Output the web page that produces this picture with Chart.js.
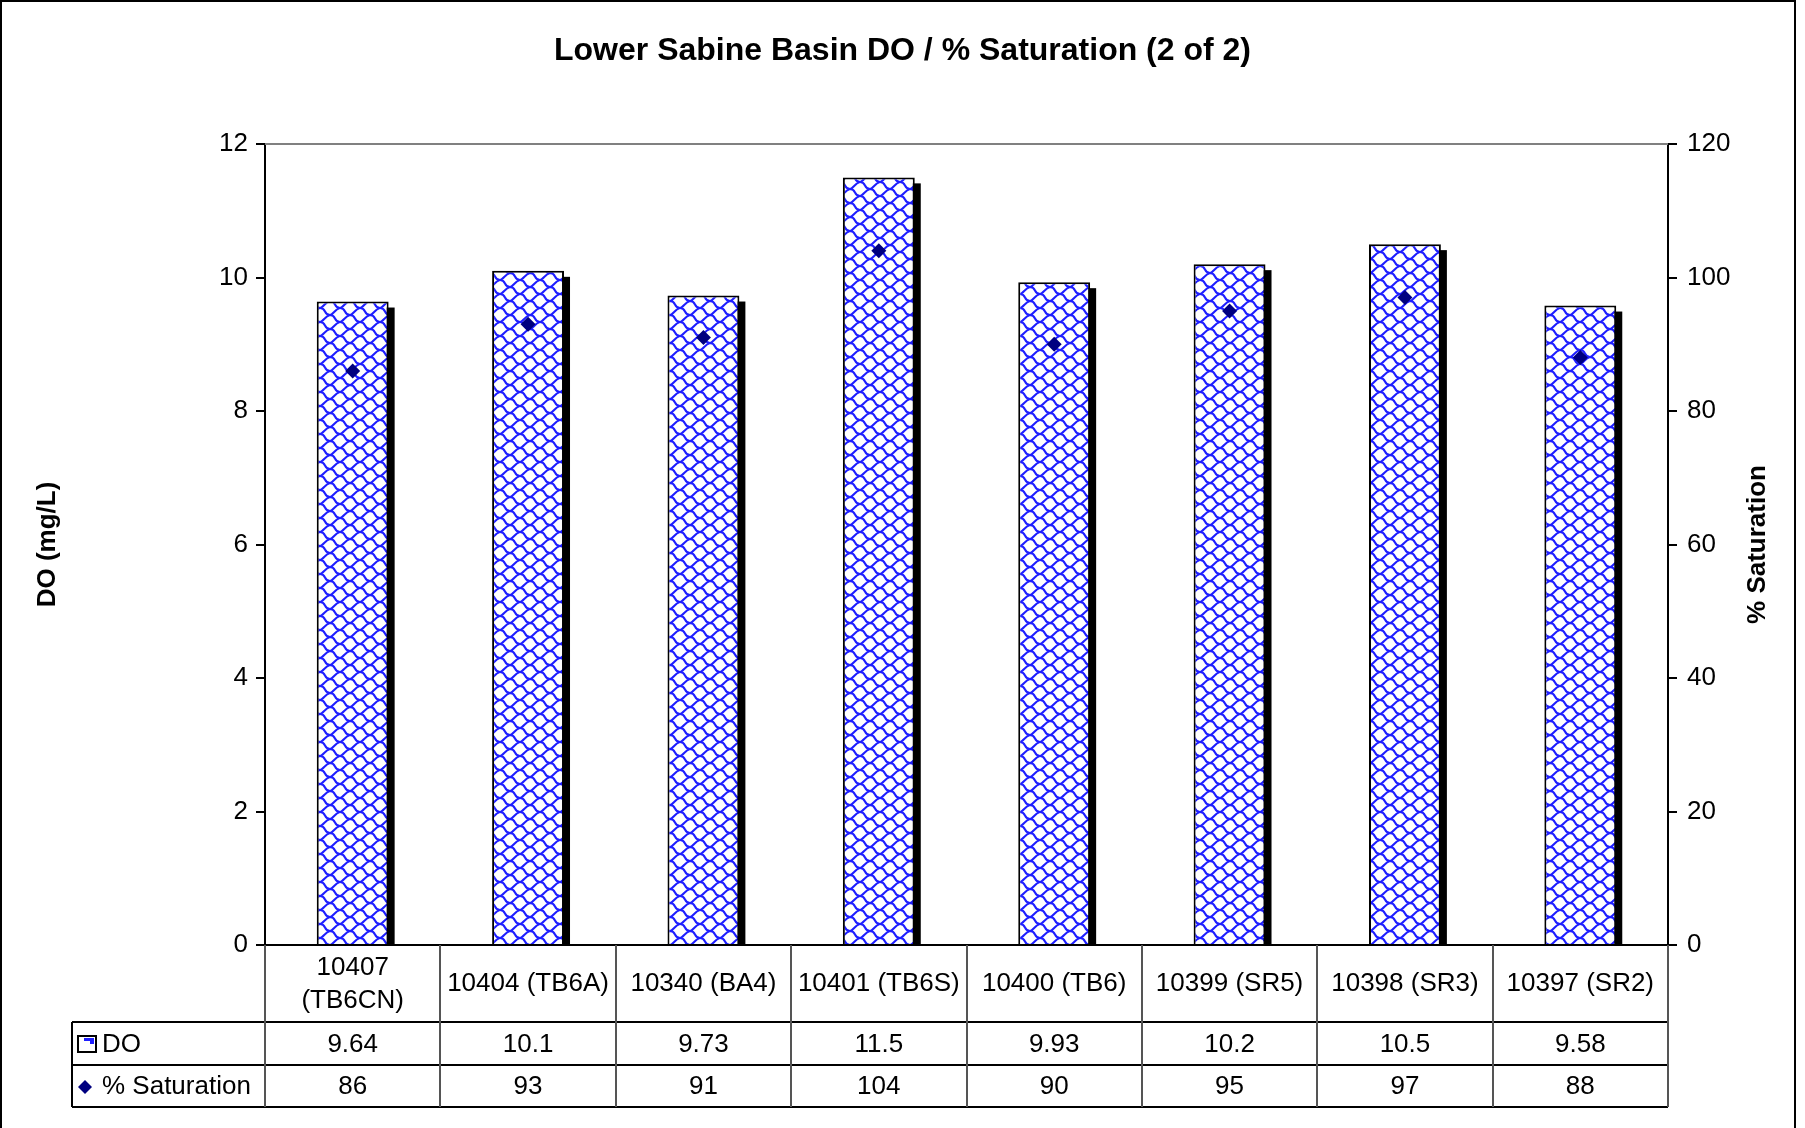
<!DOCTYPE html>
<html lang="en">
<head>
    <meta charset="UTF-8">
    <title>Lower Sabine Basin DO / % Saturation (2 of 2)</title>
    <style>
        body {
            margin: 0;
            background-color: #fff;
        }
        canvas {
            display: block;
        }
    </style>
</head>
<body>
    <canvas id="doChart" width="1805" height="1128"></canvas>

    <script src="https://cdn.jsdelivr.net/npm/chart.js"></script>
    <script>
        // data
        const categories = ['10407 (TB6CN)', '10404 (TB6A)', '10340 (BA4)', '10401 (TB6S)', '10400 (TB6)', '10399 (SR5)', '10398 (SR3)', '10397 (SR2)'];
        const doValues = [9.64, 10.1, 9.73, 11.5, 9.93, 10.2, 10.5, 9.58];
        const satValues = [86, 93, 91, 104, 90, 95, 97, 88];
        const doTicks = [0, 2, 4, 6, 8, 10, 12];
        const satTicks = [0, 20, 40, 60, 80, 100, 120];

        const FONT = '"Liberation Sans", Arial, sans-serif';

        // blue "scales" pattern used by the DO bars
        function makePattern() {
            const c = document.createElement('canvas');
            c.width = 20;
            c.height = 14;
            const p = c.getContext('2d');
            p.fillStyle = '#fff';
            p.fillRect(0, 0, 20, 14);
            p.strokeStyle = '#1f1fff';
            p.lineWidth = 2;
            p.lineCap = 'round';
            p.beginPath();
            // wavy step going down-right
            p.moveTo(0, 0);
            p.bezierCurveTo(7, 0, 3, 7, 10, 7);
            p.bezierCurveTo(17, 7, 13, 14, 20, 14);
            // connector going up-right, closes the cells
            p.moveTo(10, 7);
            p.bezierCurveTo(13, 7, 15, 1, 20, 0);
            p.moveTo(-10, 7);
            p.bezierCurveTo(-7, 7, -5, 1, 0, 0);
            p.moveTo(0, 14);
            p.bezierCurveTo(3, 14, 5, 8, 10, 7);
            p.moveTo(10, 21);
            p.bezierCurveTo(13, 21, 15, 15, 20, 14);
            p.stroke();
            return p.createPattern(c, 'repeat');
        }

        const canvas = document.getElementById('doChart');
        const ctx = canvas.getContext('2d');
        const barPattern = makePattern();

        // solid black drop shadow behind the bars
        const barShadow = {
            id: 'barShadow',
            beforeDatasetDraw(chart, args) {
                if (args.meta.type !== 'bar') return;
                const c = chart.ctx;
                const a = chart.chartArea;
                c.save();
                c.fillStyle = '#000';
                args.meta.data.forEach(bar => {
                    const p = bar.getProps(['x', 'y', 'base', 'width']);
                    const top = p.y + 6;
                    const bottom = Math.min(p.base, a.bottom);
                    c.fillRect(p.x - p.width / 2 + 6, top, p.width, bottom - top);
                });
                c.restore();
            }
        };

        // plot frame top, right-axis title, data table and outer border
        const dataTable = {
            id: 'dataTable',
            beforeDatasetsDraw(chart) {
                const c = chart.ctx;
                const a = chart.chartArea;
                c.save();
                c.strokeStyle = '#808080';
                c.lineWidth = 2;
                c.beginPath();
                c.moveTo(a.left, a.top);
                c.lineTo(a.right, a.top);
                c.stroke();
                c.restore();
            },
            afterDraw(chart) {
                const c = chart.ctx;
                const a = chart.chartArea;
                const x = chart.scales.x;
                const tableLeft = 72;
                const row1 = 1022, row2 = 1065, row3 = 1107;
                const cellW = (a.right - a.left) / categories.length;

                c.save();
                // right axis title
                c.fillStyle = '#000';
                c.font = 'bold 26px ' + FONT;
                c.textAlign = 'center';
                c.textBaseline = 'middle';
                c.translate(1758, (a.top + a.bottom) / 2);
                c.rotate(-Math.PI / 2);
                c.fillText('% Saturation', 0, 0);
                c.restore();

                c.save();
                // table lines
                c.strokeStyle = '#000';
                c.lineWidth = 2;
                c.beginPath();
                c.moveTo(tableLeft, row1); c.lineTo(a.right, row1);
                c.moveTo(tableLeft, row2); c.lineTo(a.right, row2);
                c.moveTo(tableLeft, row3); c.lineTo(a.right, row3);
                c.moveTo(tableLeft, row1); c.lineTo(tableLeft, row3);
                c.stroke();
                c.strokeStyle = '#555';
                c.beginPath();
                for (let i = 0; i <= categories.length; i++) {
                    const vx = Math.round(a.left + i * cellW);
                    c.moveTo(vx, a.bottom);
                    c.lineTo(vx, row3);
                }
                c.stroke();

                // category row
                c.fillStyle = '#000';
                c.font = '26px ' + FONT;
                c.textAlign = 'center';
                c.textBaseline = 'middle';
                const midCat = (a.bottom + row1) / 2;
                categories.forEach((cat, i) => {
                    const cx = x.getPixelForValue(i);
                    if (c.measureText(cat).width > cellW - 6) {
                        const k = cat.indexOf(' ');
                        c.fillText(cat.slice(0, k), cx, midCat - 16);
                        c.fillText(cat.slice(k + 1), cx, midCat + 17);
                    } else {
                        c.fillText(cat, cx, midCat);
                    }
                    c.fillText(String(doValues[i]), cx, (row1 + row2) / 2 + 1);
                    c.fillText(String(satValues[i]), cx, (row2 + row3) / 2 + 1);
                });

                // series labels with legend keys
                c.textAlign = 'left';
                c.fillText('DO', 102, (row1 + row2) / 2 + 1);
                c.fillText('% Saturation', 102, (row2 + row3) / 2 + 1);
                c.fillStyle = '#fff';
                c.fillRect(78, 1036, 18, 16);
                c.fillStyle = '#1f1fff';
                c.fillRect(84, 1038, 10, 3);
                c.fillRect(90, 1041, 4, 3);
                c.strokeStyle = '#000';
                c.lineWidth = 2;
                c.strokeRect(78, 1036, 18, 16);
                const dy = (row2 + row3) / 2 + 1;
                c.fillStyle = '#000080';
                c.beginPath();
                c.moveTo(85 - 7, dy);
                c.lineTo(85, dy - 7);
                c.lineTo(85 + 7, dy);
                c.lineTo(85, dy + 7);
                c.closePath();
                c.fill();

                // outer chart border
                c.strokeStyle = '#000';
                c.lineWidth = 2;
                c.strokeRect(1, 1, 1794, 1140);
                c.restore();
            }
        };

        new Chart(ctx, {
            data: {
                labels: categories,
                datasets: [
                    {
                        type: 'line',
                        label: '% Saturation',
                        data: satValues,
                        yAxisID: 'y1',
                        showLine: false,
                        pointStyle: 'rectRot',
                        pointRadius: 7.5,
                        pointBackgroundColor: '#000080',
                        pointBorderColor: '#000080',
                        pointBorderWidth: 0,
                        order: 0
                    },
                    {
                        type: 'bar',
                        label: 'DO',
                        data: doValues,
                        yAxisID: 'y',
                        backgroundColor: barPattern,
                        borderColor: '#000',
                        borderWidth: 2,
                        barPercentage: 0.41,
                        categoryPercentage: 1,
                        order: 1
                    }
                ]
            },
            options: {
                responsive: false,
                animation: false,
                devicePixelRatio: 1,
                layout: { padding: 0 },
                plugins: {
                    legend: { display: false },
                    tooltip: { enabled: false },
                    title: {
                        display: true,
                        text: 'Lower Sabine Basin DO / % Saturation (2 of 2)',
                        color: '#000',
                        font: { family: FONT, size: 32, weight: 'bold' },
                        padding: { top: 32, bottom: 73.6 }
                    }
                },
                scales: {
                    x: {
                        ticks: { display: false },
                        grid: { display: false },
                        border: { display: true, color: '#000', width: 2 },
                        afterFit(scale) { scale.height = 183; }
                    },
                    y: {
                        position: 'left',
                        min: 0,
                        max: 12,
                        afterBuildTicks(scale) { scale.ticks = doTicks.map(v => ({ value: v })); },
                        ticks: {
                            color: '#000',
                            padding: 8,
                            font: { family: FONT, size: 26 }
                        },
                        grid: { drawOnChartArea: false, tickLength: 9, color: '#000', lineWidth: 2 },
                        border: { color: '#000', width: 2 },
                        title: {
                            display: true,
                            text: 'DO (mg/L)',
                            color: '#000',
                            font: { family: FONT, size: 26, weight: 'bold' },
                            padding: { top: 32, bottom: 0 }
                        },
                        afterFit(scale) { scale.width = 265; }
                    },
                    y1: {
                        position: 'right',
                        min: 0,
                        max: 120,
                        afterBuildTicks(scale) { scale.ticks = satTicks.map(v => ({ value: v })); },
                        ticks: {
                            color: '#000',
                            padding: 10,
                            font: { family: FONT, size: 26 }
                        },
                        grid: { drawOnChartArea: false, tickLength: 9, color: '#000', lineWidth: 2 },
                        border: { color: '#000', width: 2 },
                        afterFit(scale) { scale.width = 137; }
                    }
                }
            },
            plugins: [barShadow, dataTable]
        });
    </script>
</body>
</html>
